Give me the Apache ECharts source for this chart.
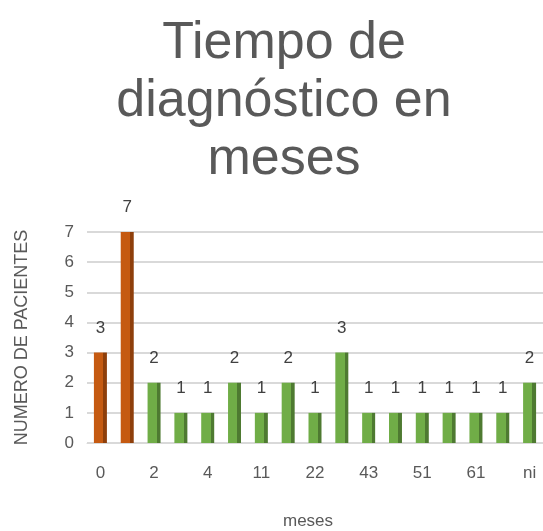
<!DOCTYPE html>
<html>
<head>
<meta charset="utf-8">
<script src="https://cdn.jsdelivr.net/npm/echarts@6/dist/echarts.min.js"></script>
<style>
  *{ margin:0; padding:0; }
  body{ background:#fff; }
  #chart{ width:543px; height:531px; }
</style>
</head>
<body>
<div id="chart"></div>
<script>
  // categorias (meses) - las que no se leen estan estimadas
  var categorias = ['0','1','2','3','4','6','11','12','22','24','43','48','51','60','61','72','ni'];
  var pacientes = [3,7,2,1,1,2,1,2,1,3,1,1,1,1,1,1,2];
  var yTicks = [0,1,2,3,4,5,6,7];

  var naranja = '#C55A11', naranjaOsc = '#8E3F0B';
  var verde = '#70AD47', verdeOsc = '#4E7A31';

  function barra(c1, c2){
    return new echarts.graphic.LinearGradient(0,0,1,0,[
      {offset:0, color:c1},{offset:0.72, color:c1},
      {offset:0.72, color:c2},{offset:1, color:c2}
    ]);
  }

  var chart = echarts.init(document.getElementById('chart'));
  chart.setOption({
    animation:false,
    title:{
      text:'Tiempo de\ndiagnóstico en\nmeses',
      left:279, top:10,
      textAlign:'center',
      textStyle:{ fontFamily:'Liberation Sans', fontSize:52, fontWeight:'normal', color:'#595959', lineHeight:58 }
    },
    grid:{ left:87, top:232, width:460, height:218 },
    xAxis:{
      type:'category',
      data:categorias,
      name:'meses',
      nameLocation:'middle',
      nameGap:70,
      nameTextStyle:{ fontFamily:'Liberation Sans', fontSize:17, color:'#595959', padding:[0,14,0,0] },
      axisLine:{ show:true, lineStyle:{ color:'#d9d9d9' } },
      axisTick:{ show:false },
      axisLabel:{ interval:1, margin:22, fontFamily:'Liberation Sans', fontSize:17, color:'#595959' }
    },
    yAxis:{
      type:'value',
      min:yTicks[0], max:yTicks[yTicks.length-1], interval:1,
      name:'NUMERO DE PACIENTES',
      nameLocation:'middle',
      nameGap:56,
      nameTextStyle:{ fontFamily:'Liberation Sans', fontSize:18, color:'#595959' },
      axisLine:{ show:false },
      axisTick:{ show:false },
      axisLabel:{ margin:13, fontFamily:'Liberation Sans', fontSize:17, color:'#595959' },
      splitLine:{ lineStyle:{ color:'#d9d9d9', width:2 } }
    },
    series:[{
      type:'bar',
      data:pacientes.map(function(v,i){
        return { value:v, itemStyle:{ color: i < 2 ? barra(naranja, naranjaOsc) : barra(verde, verdeOsc) } };
      }),
      barWidth:13,
      label:{ show:true, position:'top', distance:16, fontFamily:'Liberation Sans', fontSize:17, color:'#404040' }
    }]
  });
</script>
</body>
</html>
